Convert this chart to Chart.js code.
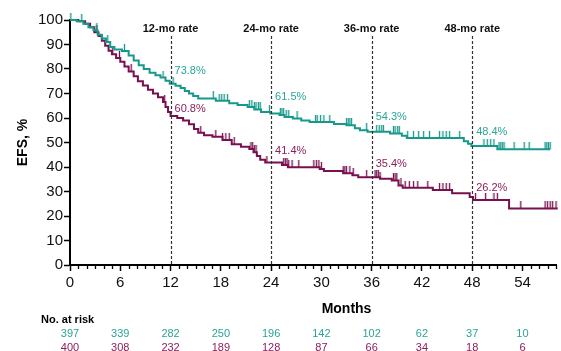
<!DOCTYPE html>
<html><head><meta charset="utf-8">
<script src="https://cdn.jsdelivr.net/npm/chart.js@4.4.1/dist/chart.umd.min.js"></script>
<style>html,body{margin:0;padding:0;background:#fff}</style>
</head><body>
<canvas id="c" width="561" height="351"></canvas>
<script>
// ---- data ----
const tealTimes  = [0,0.8,1.6,2.2,2.8,3.3,3.8,4.3,4.8,5.3,6.2,7.0,7.6,8.2,8.8,9.5,10.2,10.8,11.4,11.9,12.6,13.2,13.7,14.2,14.7,15.3,17.4,19.0,20.0,21.2,22.0,22.8,23.9,25.0,25.6,26.6,27.6,28.6,31.5,33.0,34.0,34.6,35.5,38.2,39.6,40.2,47.0,47.5,47.9,51.0,57.3];
const tealValues = [100,99.5,98.5,97,95.8,94,92.5,91,89,88,87.3,85.5,83.5,81.5,80,78.5,77.5,76.5,75.2,74,73.2,72.2,71,70,69,68,67,66,65.3,64.5,63.5,62.5,61.8,61.2,60.4,59.8,59.0,58.4,57.6,57.0,55.8,55.0,54.4,53.7,52.8,51.8,50.5,49.5,48.6,47.2,47.2];
const maroonTimes  = [0,1.0,1.8,2.4,2.9,3.4,3.8,4.2,4.6,5.0,5.5,6.0,6.5,7.0,7.6,8.1,8.7,9.3,9.9,10.5,11.1,11.4,11.7,12.0,12.8,13.5,14.2,14.8,15.3,16.0,17.0,18.2,19.3,20.4,21.4,21.9,22.3,22.7,23.3,25.3,26.0,29.8,30.3,32.6,33.7,34.4,37.0,38.4,39.2,39.7,43.3,45.6,47.7,48.1,52.4,58.2];
const maroonValues = [100,99.5,98.5,97,95,93.5,91.5,89.5,87.5,86,84.5,83,81,79,77,75,73.3,71.5,70,68.5,66.5,64.5,62.5,60.8,60.0,59,57.5,55.5,54,53,52.3,51,49.3,48.3,47.3,46,44.5,43,41.8,40.8,39.9,39.2,38.4,37.5,36.6,35.8,35.2,34.5,32.5,31.5,30.6,29.3,27.8,26.5,23.1,23.1];
const tealCensor = [0.1,1.4,3.2,4.5,6.5,11.1,12.3,17.1,17.8,18.1,18.4,18.8,21.4,21.7,22.0,22.2,22.5,22.7,23.8,25.1,25.3,25.5,25.8,26.1,27.1,29.3,29.5,29.9,30.3,31.0,33.0,33.2,33.4,33.6,35.4,36.6,36.9,37.2,37.4,38.6,38.8,39.1,39.3,40.3,41.0,41.6,42.2,42.9,44.1,44.5,44.9,45.3,46.5,49.4,49.8,50.2,50.6,51.2,51.4,51.6,51.8,53.0,54.2,54.8,56.7,56.9,57.1,57.3];
const maroonCensor = [3.2,5.1,5.9,7.3,11.3,15.6,17.4,18.2,18.6,19.0,19.6,21.6,21.8,22.0,22.2,23.5,25.5,25.7,25.9,26.1,26.5,27.3,29.1,29.4,29.7,30.0,32.6,32.8,33.0,33.4,33.8,35.4,36.4,36.6,36.8,37.0,38.6,38.8,39.0,39.5,40.0,40.5,41.0,41.5,42.7,44.1,44.5,44.9,45.3,48.4,49.6,50.6,51.0,53.8,56.7,57.0,57.3,57.6,58.0];
const rateMonths = [12,24,36,48];
const rateTitles = ['12-mo rate','24-mo rate','36-mo rate','48-mo rate'];
const tealRates = [73.8,61.5,54.3,48.4];
const maroonRates = [60.8,41.4,35.4,26.2];
const riskTimes = [0,6,12,18,24,30,36,42,48,54];
const riskTeal = [397,339,282,250,196,142,102,62,37,10];
const riskMaroon = [400,308,232,189,128,87,66,34,18,6];

// ---- styles ----
const TEAL = '#17998a', MAROON = '#78104f';
const TEAL_TXT = '#2aa596', MAROON_TXT = '#8a1f5c';
const FONT = '"Liberation Sans", Arial, sans-serif';

function survAt(times, vals, t){ let v = vals[0]; for(let i=0;i<times.length;i++){ if(times[i]<=t) v=vals[i]; } return v; }
function tickImg(color){ const c=document.createElement('canvas'); c.width=3; c.height=14; const g=c.getContext('2d'); g.strokeStyle=color; g.lineWidth=1.3; g.beginPath(); g.moveTo(1.5,0); g.lineTo(1.5,7); g.stroke(); return c; }

const overlay = {
  id:'overlay',
  afterDraw(chart){
    const ctx=chart.ctx, xs=chart.scales.x, ys=chart.scales.y, ca=chart.chartArea;
    ctx.save();
    // minor x ticks
    ctx.strokeStyle='#000'; ctx.lineWidth=1.3;
    for(let m=1;m<=58;m++){ if(m%6===0) continue; const px=Math.round(xs.getPixelForValue(m))+0.5; ctx.beginPath(); ctx.moveTo(px,ca.bottom); ctx.lineTo(px,ca.bottom+4); ctx.stroke(); }
    // dashed lines + titles
    ctx.setLineDash([3,2]); ctx.strokeStyle='#333'; ctx.lineWidth=1.2;
    rateMonths.forEach((m,i)=>{ const px=Math.round(xs.getPixelForValue(m))+0.5; ctx.beginPath(); ctx.moveTo(px,36); ctx.lineTo(px,ca.bottom); ctx.stroke(); });
    ctx.setLineDash([]);
    ctx.fillStyle='#111'; ctx.font='bold 11px '+FONT; ctx.textAlign='center'; ctx.textBaseline='middle';
    rateMonths.forEach((m,i)=>{ ctx.fillText(rateTitles[i], xs.getPixelForValue(m), 29); });
    // rate labels
    const tealLift=[13,17,14.5,14], maroonLift=[7,12.6,14,13];
    ctx.font='11px '+FONT; ctx.textAlign='left';
    rateMonths.forEach((m,i)=>{
      const px=xs.getPixelForValue(m)+4;
      ctx.fillStyle=TEAL_TXT; ctx.fillText(tealRates[i].toFixed(1)+'%', px, ys.getPixelForValue(tealRates[i])-tealLift[i]);
      ctx.fillStyle=MAROON_TXT; ctx.fillText(maroonRates[i].toFixed(1)+'%', px, ys.getPixelForValue(maroonRates[i])-maroonLift[i]);
    });
    // axis titles
    ctx.fillStyle='#000'; ctx.font='bold 14px '+FONT; ctx.textAlign='center';
    ctx.fillText('Months', xs.getPixelForValue(33), 309);
    ctx.save(); ctx.translate(23,(ca.top+ca.bottom)/2); ctx.rotate(-Math.PI/2); ctx.fillText('EFS, %',0,0); ctx.restore();
    // risk table
    ctx.font='bold 11px '+FONT; ctx.textAlign='left'; ctx.fillStyle='#000';
    ctx.fillText('No. at risk', 41, 320);
    ctx.font='11px '+FONT; ctx.textAlign='center';
    riskTimes.forEach((t,i)=>{
      const px=xs.getPixelForValue(t);
      ctx.fillStyle=TEAL_TXT; ctx.fillText(String(riskTeal[i]), px, 334);
      ctx.fillStyle=MAROON_TXT; ctx.fillText(String(riskMaroon[i]), px, 348);
    });
    ctx.restore();
  }
};

new Chart(document.getElementById('c'), {
  type:'line',
  data:{ datasets:[
    { data:tealTimes.map((t,i)=>({x:t,y:tealValues[i]})), borderColor:TEAL, borderWidth:2, stepped:true, pointRadius:0, fill:false, clip:false },
    { data:maroonTimes.map((t,i)=>({x:t,y:maroonValues[i]})), borderColor:MAROON, borderWidth:2, stepped:true, pointRadius:0, fill:false, clip:false },
    { type:'scatter', data:tealCensor.map(t=>({x:t,y:survAt(tealTimes,tealValues,t)})), pointStyle:tickImg(TEAL), pointRadius:4, showLine:false, clip:false },
    { type:'scatter', data:maroonCensor.map(t=>({x:t,y:survAt(maroonTimes,maroonValues,t)})), pointStyle:tickImg(MAROON), pointRadius:4, showLine:false, clip:false }
  ]},
  options:{
    responsive:false, devicePixelRatio:1, animation:false,
    layout:{ padding:{ left:0, right:2, top:20, bottom:0 } },
    plugins:{ legend:{display:false}, tooltip:{enabled:false} },
    scales:{
      x:{ type:'linear', min:0, max:58,
        afterFit:s=>{ s.height=86; },
        border:{ display:true, color:'#000', width:2 },
        grid:{ drawOnChartArea:false, drawTicks:true, tickLength:6, tickWidth:1.5, tickColor:c=> (c.tick && c.tick.value%6===0) ? '#000' : 'rgba(0,0,0,0)' },
        ticks:{ stepSize:1, autoSkip:false, maxRotation:0, padding:3, color:'#111', font:{ size:15, family:FONT }, callback:v=> (v%6===0) ? String(v) : '' }
      },
      y:{ min:0, max:100,
        afterFit:s=>{ s.width=70; },
        border:{ display:true, color:'#000', width:2 },
        grid:{ drawOnChartArea:false, drawTicks:true, tickLength:6, tickWidth:1.5, tickColor:'#000' },
        ticks:{ stepSize:10, padding:1, color:'#111', font:{ size:15, family:FONT } }
      }
    }
  },
  plugins:[overlay]
});
</script>
</body></html>
